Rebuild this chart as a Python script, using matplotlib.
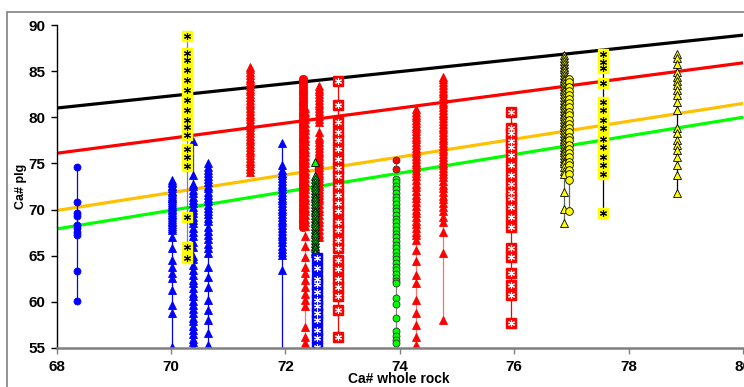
import matplotlib.pyplot as plt
from matplotlib.patches import Rectangle

# reference lines (Ca# whole rock -> Ca# plg), end points at x=68 and x=80
line_x = [68, 80]
black_line = [81.0, 88.9]
red_line = [76.1, 85.9]
orange_line = [69.9, 81.5]
green_line = [67.9, 80.0]

# blue circles
x_blue_circ = 68.35
y_blue_circ = [74.6, 70.8, 69.6, 69.3, 68.3, 68.0, 67.6, 67.2, 63.3, 60.1]

# blue triangles, several samples
x_blue_tri_1 = 70.01
y_blue_tri_1 = [73.2, 73.0, 72.9, 72.6, 72.5, 72.3, 72.0, 71.9, 71.7, 71.5, 71.3, 71.2,
                71.0, 70.8, 70.6, 70.4, 70.3, 70.1, 69.9, 69.7, 69.5, 69.4, 69.2, 69.0,
                68.8, 68.6, 68.4, 68.2, 68.0, 67.8, 67.0, 65.8, 64.5, 63.8, 63.1, 62.6,
                61.3, 59.7, 58.8, 55.1]
x_blue_tri_2 = 70.38
y_blue_tri_2 = [77.4, 73.7, 72.8, 72.5, 72.1, 71.8, 71.4, 71.0, 70.7, 70.3, 70.0, 69.6,
                69.2, 68.9, 68.5, 68.0, 67.6, 67.1, 66.5, 65.9, 65.0, 64.6, 64.0, 63.5,
                62.9, 62.4, 62.0, 61.5, 61.0, 60.6, 60.1, 59.7, 59.2, 58.8, 58.3, 57.9,
                57.4, 57.0, 56.5, 56.0, 55.6, 55.1]
x_blue_tri_3 = 70.64
y_blue_tri_3 = [75.1, 74.6, 74.3, 74.0, 73.6, 73.3, 73.0, 72.6, 72.3, 71.9, 71.6, 71.2,
                70.9, 70.5, 70.2, 69.8, 69.5, 69.1, 68.8, 68.1, 67.7, 67.2, 66.8, 66.3,
                65.8, 65.3, 63.8, 62.7, 61.6, 60.2, 59.1, 58.0, 56.6, 55.3]
x_blue_tri_4 = 71.94
y_blue_tri_4 = [77.2, 74.8, 74.3, 74.0, 73.7, 73.4, 73.1, 72.8, 72.5, 72.2, 71.9, 71.6,
                71.3, 71.0, 70.7, 70.4, 70.1, 69.8, 69.5, 69.2, 68.9, 68.6, 68.3, 68.0,
                67.7, 67.4, 67.1, 66.8, 66.5, 66.1, 65.7, 65.4, 65.1, 63.5, 53.0]

# yellow squares with star
x_yel_sq_1 = 70.27
y_yel_sq_1 = [88.8, 87.0, 86.2, 85.1, 84.0, 83.0, 81.9, 80.8, 79.7, 79.0, 78.1, 76.6,
              75.7, 74.7, 69.2, 65.9, 64.7]
x_yel_sq_2 = 77.56
y_yel_sq_2 = [86.9, 86.0, 85.3, 83.7, 81.7, 80.8, 79.7, 78.8, 77.7, 76.8, 75.7, 74.8,
              73.9, 69.6]

# red triangles
x_red_tri_1 = 71.38
y_red_tri_1 = [85.5, 85.2, 84.9, 84.6, 84.3, 84.0, 83.7, 83.4, 83.1, 82.8, 82.5, 82.2,
               81.9, 81.6, 81.3, 81.0, 80.7, 80.4, 80.1, 79.8, 79.5, 79.2, 78.9, 78.6,
               78.3, 78.0, 77.7, 77.4, 77.1, 76.8, 76.5, 76.2, 75.9, 75.6, 75.3, 75.0,
               74.7, 74.4, 74.1]
x_red_circ_1 = 72.30
y_red_circ_1 = [84.1, 83.7, 83.3, 82.9, 82.5, 82.1, 81.7, 81.3, 80.9, 80.5, 80.1, 79.7,
                79.3, 78.9, 78.5, 78.1, 77.7, 77.3, 76.9, 76.5, 76.1, 75.7, 75.3, 74.9,
                74.5, 74.1, 73.7, 73.3, 72.9, 72.5, 72.1, 71.7, 71.3, 70.9, 70.5, 70.1,
                69.7, 69.3, 68.9, 68.5, 68.1]
x_red_tri_2 = 72.34
y_red_tri_2 = [81.0, 80.6, 80.2, 79.8, 79.4, 79.0, 78.6, 78.2, 77.8, 77.4, 77.0, 76.6,
               76.2, 75.8, 75.4, 75.0, 74.6, 74.2, 73.8, 73.4, 73.0, 72.6, 72.2, 71.8,
               71.4, 71.0, 70.6, 70.2, 69.8, 69.4, 69.0, 68.6, 68.2, 67.1, 66.0, 64.9,
               63.8, 63.1, 62.4, 61.6, 60.9, 60.2, 59.5, 57.3, 56.2, 55.5]
x_red_tri_3 = 72.59
y_red_tri_3 = [83.4, 83.1, 82.8, 82.5, 82.2, 81.9, 81.6, 81.3, 81.0, 80.7, 80.4, 80.1,
               79.8, 79.5, 78.4, 77.9, 77.6, 77.3, 77.0, 76.7, 76.4, 76.1, 75.8, 75.5,
               75.2, 74.9, 74.6, 74.3, 74.0, 73.7, 73.4, 73.1, 72.8, 72.5, 72.2, 71.9,
               71.6, 71.3, 71.0, 70.6, 70.2, 69.8, 69.4, 69.0, 68.6, 68.2, 67.8, 67.4,
               67.0]
x_red_tri_4 = 74.29
y_red_tri_4 = [80.9, 80.6, 80.3, 80.0, 79.7, 79.4, 79.1, 78.8, 78.5, 78.2, 77.9, 77.6,
               77.3, 77.0, 76.7, 76.4, 76.1, 75.8, 75.5, 75.2, 74.9, 74.6, 74.3, 74.0,
               73.6, 73.2, 72.8, 72.4, 72.0, 71.6, 71.2, 70.8, 70.4, 70.0, 69.6, 69.2,
               68.8, 68.4, 68.0, 67.6, 67.2, 66.7, 65.6, 64.4, 62.9, 62.0, 60.2, 58.8,
               57.5, 56.2, 55.3]
x_red_tri_5 = 74.76
y_red_tri_5 = [84.4, 84.1, 83.8, 83.5, 83.2, 82.9, 82.6, 82.3, 82.0, 81.7, 81.4, 81.1,
               80.8, 80.5, 80.2, 79.9, 79.6, 79.3, 79.0, 78.7, 78.4, 78.1, 77.8, 77.5,
               77.2, 76.9, 76.6, 76.3, 76.0, 75.7, 75.4, 75.1, 74.8, 74.5, 74.2, 73.9,
               73.5, 73.1, 72.7, 72.3, 71.9, 71.5, 71.1, 70.7, 70.3, 69.8, 69.2, 68.7,
               67.6, 65.3, 58.0]

# green triangles and blue squares with star
x_green_tri = 72.52
y_green_tri = [75.2, 73.6, 73.3, 73.0, 72.7, 72.4, 72.1, 71.8, 71.5, 71.2, 70.9, 70.6,
               70.3, 70.0, 69.7, 69.4, 69.1, 68.8, 68.5, 68.2, 67.9, 67.6, 67.3, 67.0,
               66.7, 66.4, 66.1, 65.8, 65.5, 65.3]
x_blue_sq = 72.55
y_blue_sq = [64.8, 63.7, 62.5, 61.9, 61.1, 60.2, 59.5, 58.8, 58.0, 56.9, 56.1, 55.1]

# red squares with star
x_red_sq_1 = 72.92
y_red_sq_1 = [83.9, 81.3, 79.5, 78.4, 77.5, 76.6, 75.5, 74.5, 73.6, 72.6, 71.6, 70.7,
              69.8, 68.7, 67.8, 66.7, 65.8, 64.5, 63.6, 62.5, 61.6, 60.6, 59.1, 56.2]
x_red_sq_2 = 75.95
y_red_sq_2 = [80.6, 78.8, 78.3, 77.4, 76.8, 75.9, 74.8, 73.7, 72.8, 71.9, 71.2, 70.3,
              69.2, 68.1, 65.8, 64.9, 63.1, 61.8, 60.7, 57.7]

# green circles (two red on top)
x_green_circ = 73.94
y_green_circ = [73.3, 73.0, 72.6, 72.2, 71.8, 71.4, 71.0, 70.6, 70.2, 69.8, 69.4, 69.0,
                68.6, 68.2, 67.8, 67.4, 67.0, 66.6, 66.2, 65.8, 65.4, 65.0, 64.6, 64.2,
                63.8, 63.4, 63.0, 62.6, 62.3, 62.0, 60.4, 59.8, 58.2, 56.8, 56.3, 55.9,
                55.5]
y_red_circ_2 = [75.4, 74.4]

# yellow triangles and circles
x_yel_tri_1 = 76.87
y_yel_tri_1 = [86.7, 86.4, 86.1, 85.8, 85.5, 85.2, 84.9, 84.6, 84.3, 84.0, 83.7, 83.4,
               83.1, 82.8, 82.5, 82.2, 81.9, 81.6, 81.3, 81.0, 80.7, 80.4, 80.1, 79.8,
               79.5, 79.2, 78.9, 78.6, 78.3, 78.0, 77.7, 77.4, 77.1, 76.8, 76.5, 76.2,
               75.9, 75.6, 75.3, 75.0, 74.6, 74.2, 73.9, 71.9, 70.1, 68.5]
x_yel_circ = 76.96
y_yel_circ = [84.2, 83.8, 83.3, 82.9, 82.4, 82.0, 81.5, 81.1, 80.6, 80.2, 79.7, 79.3,
              78.8, 78.4, 77.9, 77.5, 77.0, 76.6, 76.1, 75.7, 75.2, 74.8, 74.3, 73.8,
              73.2, 69.8]
x_yel_tri_2 = 78.84
y_yel_tri_2 = [86.9, 86.4, 85.8, 84.9, 84.4, 83.9, 83.5, 83.0, 82.4, 81.7, 80.8, 78.8,
               78.3, 77.5, 77.0, 76.5, 75.7, 74.8, 73.7, 71.8]

plt.rcParams['font.family'] = ['Liberation Sans', 'DejaVu Sans']
fig = plt.figure(figsize=(7.44, 3.87), dpi=100)
ax = fig.add_axes([0.0762, 0.1008, 0.9224, 0.8346])

# grey chart-area frame
fig.patches.append(Rectangle((0.0094, -0.1), 1.2, 1.069, transform=fig.transFigure,
                             fill=False, edgecolor='#808080', linewidth=1.2))

ax.plot(line_x, black_line, color='black', lw=2.3, zorder=1)
ax.plot(line_x, red_line, color='#FF0000', lw=2.3, zorder=1)
ax.plot(line_x, orange_line, color='#FFC000', lw=2.3, zorder=1)
ax.plot(line_x, green_line, color='#00FF00', lw=2.3, zorder=1)

star = (6, 2, 0)


def column(x, ys, marker, face, edge, line, ms, lw=0.9):
    ax.plot([x] * len(ys), ys, color=line, lw=lw, marker=marker, ms=ms,
            markerfacecolor=face, markeredgecolor=edge, markeredgewidth=0.6, zorder=3)


def star_column(x, ys, face, star_color, line):
    ax.plot([x] * len(ys), ys, color=line, lw=0.9, marker='s', ms=7.5,
            markerfacecolor=face, markeredgecolor=face, zorder=3)
    ax.plot([x] * len(ys), ys, ls='none', marker=star, ms=5,
            markeredgecolor=star_color, markeredgewidth=0.8, zorder=4)


column(x_blue_circ, y_blue_circ, 'o', '#0000FF', '#0000FF', '#0000FF', 5)
for xx, yy in [(x_blue_tri_1, y_blue_tri_1), (x_blue_tri_2, y_blue_tri_2),
               (x_blue_tri_3, y_blue_tri_3), (x_blue_tri_4, y_blue_tri_4)]:
    column(xx, yy, '^', '#0000FF', '#0000FF', '#0000FF', 6)
star_column(x_yel_sq_1, y_yel_sq_1, '#FFFF00', 'black', '#808080')
column(x_red_tri_1, y_red_tri_1, '^', '#FF0000', '#FF0000', '#FF7070', 6)
column(x_red_circ_1, y_red_circ_1, 'o', '#FF0000', '#FF0000', '#FF7070', 6)
column(x_red_tri_2, y_red_tri_2, '^', '#FF0000', '#FF0000', '#FF7070', 6)
column(x_red_tri_3, y_red_tri_3, '^', '#FF0000', '#FF0000', '#FF7070', 6)
column(x_green_tri, y_green_tri, '^', '#00FF00', 'black', '#404040', 6)
star_column(x_blue_sq, y_blue_sq, '#0000FF', 'white', '#0000FF')
star_column(x_red_sq_1, y_red_sq_1, '#FF0000', 'white', '#FF0000')
column(x_green_circ, y_green_circ, 'o', '#00FF00', '#333333', '#808080', 5)
column(x_green_circ, y_red_circ_2, 'o', '#FF0000', '#333333', '#808080', 5)
column(x_red_tri_4, y_red_tri_4, '^', '#FF0000', '#FF0000', '#FF7070', 6)
column(x_red_tri_5, y_red_tri_5, '^', '#FF0000', '#FF0000', '#FF7070', 6)
star_column(x_red_sq_2, y_red_sq_2, '#FF0000', 'white', '#FF0000')
column(x_yel_tri_1, y_yel_tri_1, '^', '#FFFF00', 'black', '#556B55', 6)
column(x_yel_circ, y_yel_circ, 'o', '#FFFF00', 'black', '#556B55', 5.5)
star_column(x_yel_sq_2, y_yel_sq_2, '#FFFF00', 'black', 'black')
column(x_yel_tri_2, y_yel_tri_2, '^', '#FFFF00', 'black', 'black', 6)

ax.set_xlim(68, 80)
ax.set_ylim(55, 90)
ax.set_xticks(range(68, 81, 2))
ax.set_yticks(range(55, 91, 5))
for s in ['top', 'right']:
    ax.spines[s].set_visible(False)
ax.spines['left'].set_color('black')
ax.spines['left'].set_linewidth(1.0)
ax.spines['bottom'].set_color('#808080')
ax.spines['bottom'].set_linewidth(1.8)
ax.spines['bottom'].set_zorder(5)
ax.tick_params(axis='y', length=4, width=1, color='black', pad=4, labelsize=11)
ax.tick_params(axis='x', length=4, width=1, color='#808080', pad=5, labelsize=11)
for lab in ax.get_xticklabels() + ax.get_yticklabels():
    lab.set_fontweight('bold')

# x label sits close under the tick labels
fig.text(399 / 744, 1 - 379 / 387, 'Ca# whole rock', fontsize=10, fontweight='bold',
         ha='center', va='center')
ax.set_ylabel('Ca# plg', fontsize=9, fontweight='bold', labelpad=1)

fig.savefig('out.png', dpi=100)
